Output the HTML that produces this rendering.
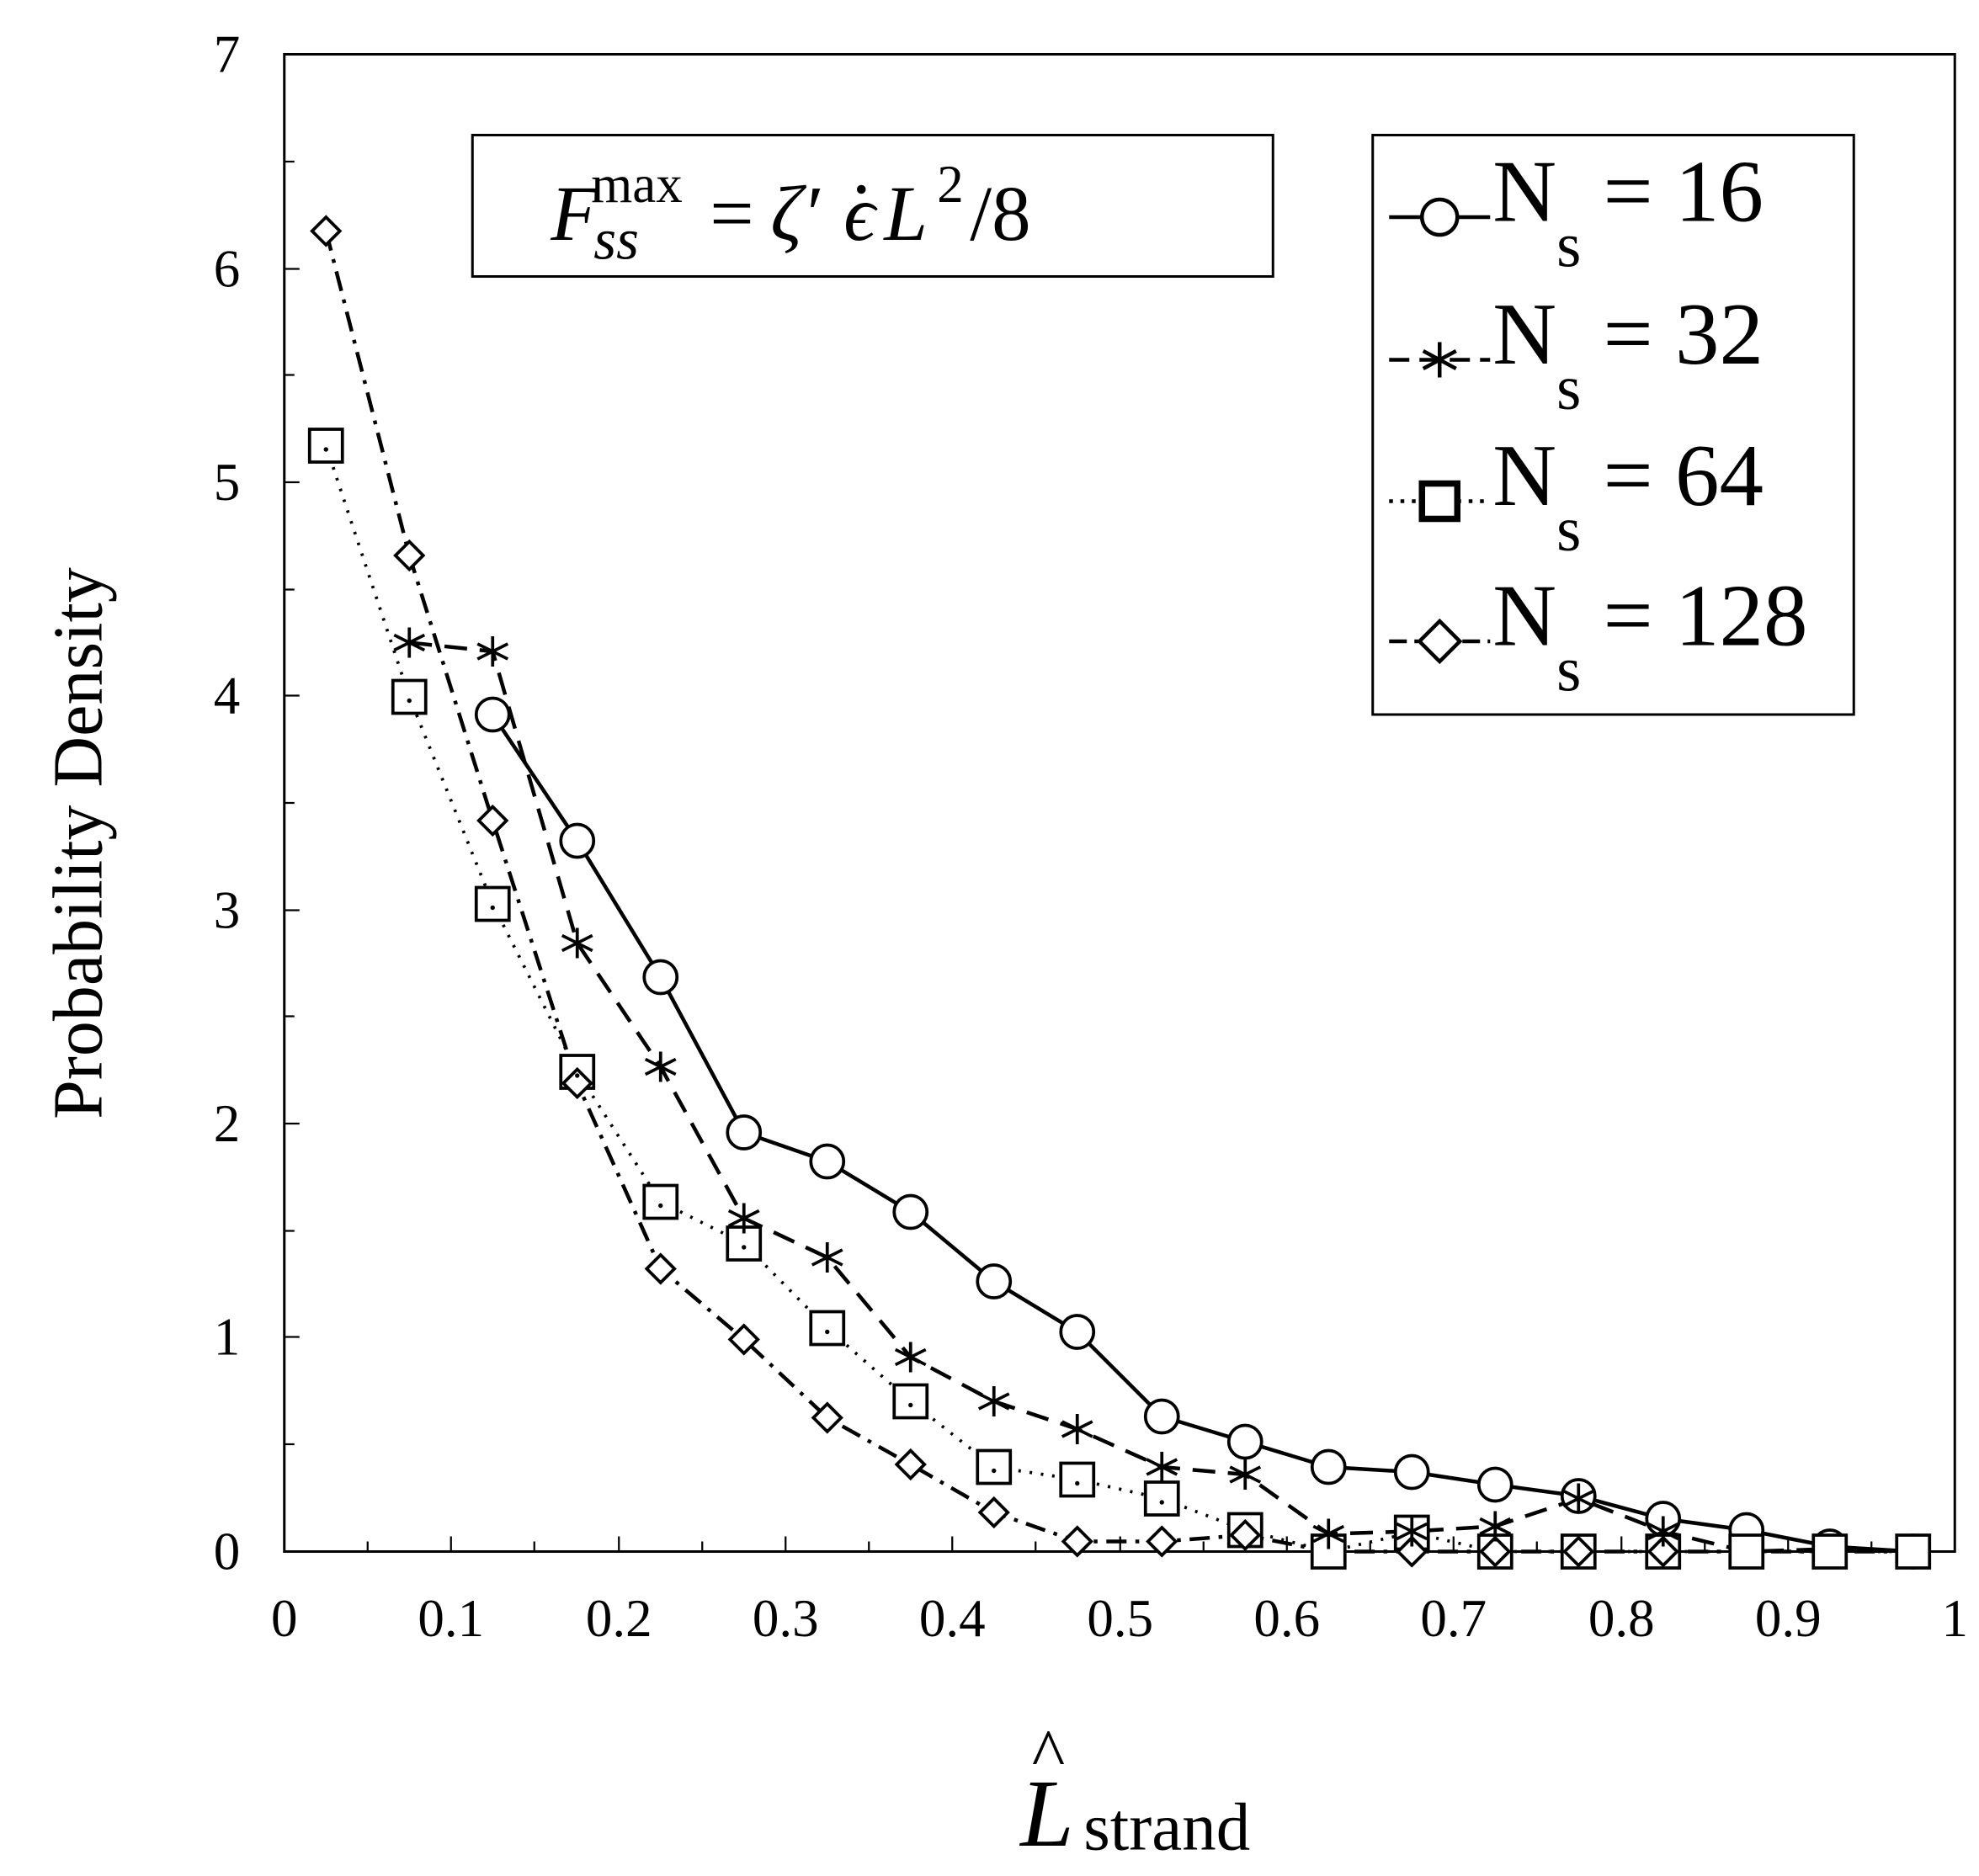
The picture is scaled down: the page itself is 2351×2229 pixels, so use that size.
<!DOCTYPE html>
<html><head><meta charset="utf-8"><style>html,body{margin:0;padding:0;background:#fff}svg{display:block}</style></head>
<body>
<svg width="2351" height="2229" viewBox="0 0 1567 1486" xmlns="http://www.w3.org/2000/svg" font-family="Liberation Serif, serif">
<rect width="1567" height="1486" fill="#fff"/>
<rect x="225" y="43" width="1323" height="1186" fill="none" stroke="#000" stroke-width="2"/>
<g stroke="#000" stroke-width="1.5">
<line x1="225" y1="1144" x2="233" y2="1144"/><line x1="225" y1="975" x2="233" y2="975"/><line x1="225" y1="805" x2="233" y2="805"/><line x1="225" y1="636" x2="233" y2="636"/><line x1="225" y1="467" x2="233" y2="467"/><line x1="225" y1="297" x2="233" y2="297"/><line x1="225" y1="128" x2="233" y2="128"/>
<line x1="225" y1="1059" x2="237" y2="1059"/><line x1="225" y1="890" x2="237" y2="890"/><line x1="225" y1="721" x2="237" y2="721"/><line x1="225" y1="551" x2="237" y2="551"/><line x1="225" y1="382" x2="237" y2="382"/><line x1="225" y1="213" x2="237" y2="213"/>
<line x1="291" y1="1229" x2="291" y2="1221"/><line x1="357" y1="1229" x2="357" y2="1217"/><line x1="423" y1="1229" x2="423" y2="1221"/><line x1="490" y1="1229" x2="490" y2="1217"/><line x1="556" y1="1229" x2="556" y2="1221"/><line x1="622" y1="1229" x2="622" y2="1217"/><line x1="688" y1="1229" x2="688" y2="1221"/><line x1="754" y1="1229" x2="754" y2="1217"/><line x1="820" y1="1229" x2="820" y2="1221"/><line x1="887" y1="1229" x2="887" y2="1217"/><line x1="953" y1="1229" x2="953" y2="1221"/><line x1="1019" y1="1229" x2="1019" y2="1217"/><line x1="1085" y1="1229" x2="1085" y2="1221"/><line x1="1151" y1="1229" x2="1151" y2="1217"/><line x1="1217" y1="1229" x2="1217" y2="1221"/><line x1="1284" y1="1229" x2="1284" y2="1217"/><line x1="1350" y1="1229" x2="1350" y2="1221"/><line x1="1416" y1="1229" x2="1416" y2="1217"/><line x1="1482" y1="1229" x2="1482" y2="1221"/>
</g>
<g font-size="42" text-anchor="end">
<text x="190" y="1243">0</text><text x="190" y="1073">1</text><text x="190" y="904">2</text><text x="190" y="735">3</text><text x="190" y="565">4</text><text x="190" y="396">5</text><text x="190" y="227">6</text><text x="190" y="57">7</text>
</g>
<g font-size="42" text-anchor="middle">
<text x="225" y="1296">0</text><text x="357" y="1296">0.1</text><text x="490" y="1296">0.2</text><text x="622" y="1296">0.3</text><text x="754" y="1296">0.4</text><text x="887" y="1296">0.5</text><text x="1019" y="1296">0.6</text><text x="1151" y="1296">0.7</text><text x="1284" y="1296">0.8</text><text x="1416" y="1296">0.9</text><text x="1548" y="1296">1</text>
</g>
<text transform="translate(80,668) rotate(-90)" font-size="56" text-anchor="middle">Probability Density</text>
<text x="808" y="1462" font-size="76" font-style="italic">L</text>
<text x="817" y="1408" font-size="56">^</text>
<text x="858" y="1465" font-size="54">strand</text>

<polyline fill="none" stroke="#000" stroke-width="3" points="390,566 457,666 523,774 589,897 655,920 721,960 787,1015 853,1055 920,1122 986,1142 1052,1162 1118,1166 1184,1176 1250,1185 1317,1203 1383,1212 1449,1225 1515,1229"/>
<polyline fill="none" stroke="#000" stroke-width="3" stroke-dasharray="18,10" points="324,509 390,516 457,747 523,845 589,965 655,996 721,1075 787,1110 853,1132 920,1162 986,1168 1052,1215 1118,1213 1184,1209 1250,1187 1317,1213 1383,1229 1449,1227 1515,1229"/>
<polyline fill="none" stroke="#000" stroke-width="2.5" stroke-dasharray="2,7" points="258,353 324,552 390,716 457,849 523,952 589,985 655,1052 721,1110 787,1162 853,1172 920,1187 986,1212 1052,1229 1118,1214 1184,1229 1250,1229 1317,1229 1383,1229 1449,1229 1515,1229"/>
<polyline fill="none" stroke="#000" stroke-width="3" stroke-dasharray="16,7,3,7" points="258,183 324,440 390,650 457,858 523,1005 589,1061 655,1123 721,1160 787,1198 853,1221 920,1221 986,1216 1052,1229 1118,1229 1184,1229 1250,1229 1317,1229 1383,1229 1449,1229 1515,1229"/>

<g fill="#fff" stroke="#000" stroke-width="2.5">
<circle cx="390" cy="566" r="13"/><circle cx="457" cy="666" r="13"/><circle cx="523" cy="774" r="13"/><circle cx="589" cy="897" r="13"/><circle cx="655" cy="920" r="13"/><circle cx="721" cy="960" r="13"/><circle cx="787" cy="1015" r="13"/><circle cx="853" cy="1055" r="13"/><circle cx="920" cy="1122" r="13"/><circle cx="986" cy="1142" r="13"/><circle cx="1052" cy="1162" r="13"/><circle cx="1118" cy="1166" r="13"/><circle cx="1184" cy="1176" r="13"/><circle cx="1250" cy="1185" r="13"/><circle cx="1317" cy="1203" r="13"/><circle cx="1383" cy="1212" r="13"/><circle cx="1449" cy="1225" r="13"/><circle cx="1515" cy="1229" r="13"/>
<rect x="245" y="340" width="26" height="26"/><rect x="311" y="539" width="26" height="26"/><rect x="377" y="703" width="26" height="26"/><rect x="444" y="836" width="26" height="26"/><rect x="510" y="939" width="26" height="26"/><rect x="576" y="972" width="26" height="26"/><rect x="642" y="1039" width="26" height="26"/><rect x="708" y="1097" width="26" height="26"/><rect x="774" y="1149" width="26" height="26"/><rect x="840" y="1159" width="26" height="26"/><rect x="907" y="1174" width="26" height="26"/><rect x="973" y="1199" width="26" height="26"/><rect x="1039" y="1216" width="26" height="26"/><rect x="1105" y="1201" width="26" height="26"/><rect x="1171" y="1216" width="26" height="26"/><rect x="1237" y="1216" width="26" height="26"/><rect x="1304" y="1216" width="26" height="26"/><rect x="1370" y="1216" width="26" height="26"/><rect x="1436" y="1216" width="26" height="26"/><rect x="1502" y="1216" width="26" height="26"/>
<path d="M258,172l11,11l-11,11l-11,-11z"/><path d="M324,429l11,11l-11,11l-11,-11z"/><path d="M390,639l11,11l-11,11l-11,-11z"/><path d="M457,847l11,11l-11,11l-11,-11z"/><path d="M523,994l11,11l-11,11l-11,-11z"/><path d="M589,1050l11,11l-11,11l-11,-11z"/><path d="M655,1112l11,11l-11,11l-11,-11z"/><path d="M721,1149l11,11l-11,11l-11,-11z"/><path d="M787,1187l11,11l-11,11l-11,-11z"/><path d="M853,1210l11,11l-11,11l-11,-11z"/><path d="M920,1210l11,11l-11,11l-11,-11z"/><path d="M986,1205l11,11l-11,11l-11,-11z"/><path d="M1118,1218l11,11l-11,11l-11,-11z"/><path d="M1184,1218l11,11l-11,11l-11,-11z"/><path d="M1250,1218l11,11l-11,11l-11,-11z"/><path d="M1317,1218l11,11l-11,11l-11,-11z"/>
</g>
<g fill="#000">
<circle cx="258" cy="356" r="1.8"/><circle cx="324" cy="555" r="1.8"/><circle cx="390" cy="719" r="1.8"/><circle cx="457" cy="852" r="1.8"/><circle cx="523" cy="955" r="1.8"/><circle cx="589" cy="988" r="1.8"/><circle cx="655" cy="1055" r="1.8"/><circle cx="721" cy="1113" r="1.8"/><circle cx="787" cy="1165" r="1.8"/><circle cx="853" cy="1175" r="1.8"/><circle cx="920" cy="1190" r="1.8"/>
</g>
<g stroke="#000" stroke-width="2.5" fill="none">
<path d="M324,497v24M312,503l24,12M312,515l24,-12"/>
<path d="M390,504v24M378,510l24,12M378,522l24,-12"/>
<path d="M457,735v24M445,741l24,12M445,753l24,-12"/>
<path d="M523,833v24M511,839l24,12M511,851l24,-12"/>
<path d="M589,953v24M577,959l24,12M577,971l24,-12"/>
<path d="M655,984v24M643,990l24,12M643,1002l24,-12"/>
<path d="M721,1063v24M709,1069l24,12M709,1081l24,-12"/>
<path d="M787,1098v24M775,1104l24,12M775,1116l24,-12"/>
<path d="M853,1120v24M841,1126l24,12M841,1138l24,-12"/>
<path d="M920,1150v24M908,1156l24,12M908,1168l24,-12"/>
<path d="M986,1156v24M974,1162l24,12M974,1174l24,-12"/>
<path d="M1052,1203v24M1040,1209l24,12M1040,1221l24,-12"/>
<path d="M1118,1201v24M1106,1207l24,12M1106,1219l24,-12"/>
<path d="M1184,1197v24M1172,1203l24,12M1172,1215l24,-12"/>
<path d="M1250,1175v24M1238,1181l24,12M1238,1193l24,-12"/>
<path d="M1317,1201v24M1305,1207l24,12M1305,1219l24,-12"/>
</g>

<rect x="374" y="107" width="634" height="112" fill="#fff" stroke="#000" stroke-width="2"/>
<g font-size="62">
<text x="436" y="190" font-style="italic">F</text>
<text x="470" y="205" font-size="46" font-style="italic">ss</text>
<text x="468" y="160" font-size="42">max</text>
<text x="562" y="190">=</text>
<text x="610" y="190" font-style="italic">ζ′</text>
<text x="668" y="190" font-style="italic">ϵ</text>
<circle cx="682" cy="150" r="3.5" fill="#000"/>
<text x="700" y="190" font-style="italic">L</text>
<text x="742" y="160" font-size="42">2</text>
<text x="768" y="190">/8</text>
</g>

<rect x="1087" y="107" width="381" height="459" fill="#fff" stroke="#000" stroke-width="2"/>
<g stroke="#000" stroke-width="3" fill="#fff">
<line x1="1100" y1="172" x2="1180" y2="172"/><circle cx="1140" cy="172" r="14"/>
<line x1="1100" y1="285" x2="1180" y2="285" stroke-dasharray="16,8"/><path d="M1140,271v28M1127,278l26,14M1127,292l26,-14" fill="none"/>
<line x1="1100" y1="397" x2="1180" y2="397" stroke-dasharray="3,6"/><rect x="1126" y="383" width="28" height="28" stroke-width="5"/>
<line x1="1100" y1="508" x2="1180" y2="508" stroke-dasharray="14,6,3,6"/><path d="M1140,492l16,16l-16,16l-16,-16z"/>
</g>
<g font-size="70">
<text x="1182" y="175">N<tspan font-size="50" dy="36">s</tspan><tspan dy="-36"> = 16</tspan></text>
<text x="1182" y="288">N<tspan font-size="50" dy="36">s</tspan><tspan dy="-36"> = 32</tspan></text>
<text x="1182" y="400">N<tspan font-size="50" dy="36">s</tspan><tspan dy="-36"> = 64</tspan></text>
<text x="1182" y="511">N<tspan font-size="50" dy="36">s</tspan><tspan dy="-36"> = 128</tspan></text>
</g>
</svg>
</body></html>
